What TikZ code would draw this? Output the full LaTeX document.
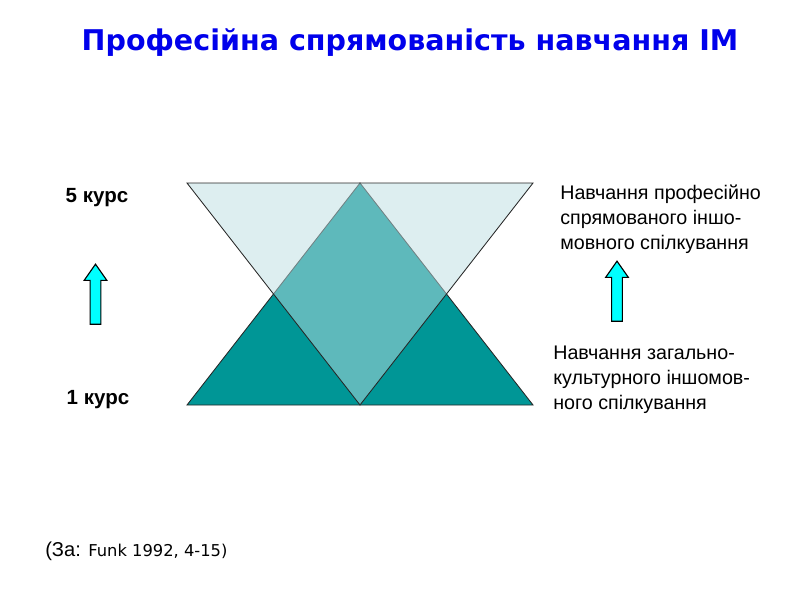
\documentclass[tikz,border=0pt]{standalone}
\usepackage{fontspec}
\setmainfont{Liberation Sans}
\newfontfamily\titlefont{DejaVu Sans}
\usetikzlibrary{shapes.arrows}
\definecolor{darkteal}{RGB}{0,150,150}
\definecolor{paleteal}{RGB}{188,221,225}
\definecolor{titleblue}{RGB}{0,0,235}
\definecolor{arrowcyan}{RGB}{0,255,255}
\begin{document}
\begin{tikzpicture}[x=0.025cm, y=-0.025cm,
  txt/.style={inner sep=0pt, align=left, font=\fontsize{14}{17.7}\selectfont},
  course/.style={inner sep=0pt, font=\bfseries\fontsize{14.6}{17}\selectfont},
  uparrow/.style={single arrow, draw=black, fill=arrowcyan, line width=0.8pt, rotate=90,
    minimum height=1.5cm, inner sep=0.12cm, single arrow head extend=0.15cm,
    single arrow tip angle=70}]
\useasboundingbox (0,0) rectangle (800,600);

\node[inner sep=0pt, text=titleblue, font=\titlefont\bfseries\fontsize{20.3}{24}\selectfont] (title) at (410,43) {Професійна спрямованість навчання ІМ};

% triangles
\coordinate (tl) at (187,183);
\coordinate (tm) at (360,183);
\coordinate (tr) at (533,183);
\coordinate (bl) at (187,405);
\coordinate (bm) at (360,405);
\coordinate (br) at (533,405);
\draw[fill=darkteal, draw=black!85, line width=0.6pt] (bl) -- (tm) -- (br) -- cycle;
\draw[fill=paleteal, fill opacity=0.5, draw=black!85, line width=0.6pt] (tl) -- (tr) -- (bm) -- cycle;

\node[course] (c5) at (97,198) {5 курс};
\node[course] (c1) at (98,400) {1 курс};
\node[uparrow] (a1) at (95.5,298) {};
\node[uparrow] (a2) at (617,295) {};

\node[txt, anchor=north west] (prof) at (560,185) {Навчання професійно\\спрямованого іншо-\\мовного спілкування};
\node[txt, anchor=north west] (gen) at (553,346) {Навчання загально-\\культурного іншомов-\\ного спілкування};

\node[inner sep=0pt, anchor=west] (src) at (45,551) {\fontsize{14.3}{16}\selectfont(За: {\titlefont\fontsize{11.6}{13}\selectfont Funk 1992, 4-15)}};
\end{tikzpicture}
\end{document}
